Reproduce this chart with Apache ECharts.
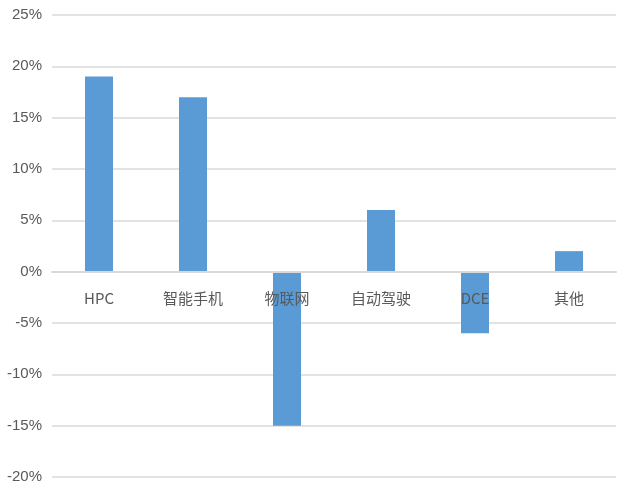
<!DOCTYPE html>
<html><head><meta charset="utf-8">
<script src="https://cdn.jsdelivr.net/npm/echarts@6/dist/echarts.min.js"></script>
<style>html,body{margin:0;padding:0;background:#fff}#c{width:621px;height:488px}</style>
</head><body><div id="c"></div>
<script>
var categories = ['HPC', '智能手机', '物联网', '自动驾驶', 'DCE', '其他'];
var values = [19, 17, -15, 6, -6, 2];
var yMin = -20, yMax = 25, yStep = 5;

var gridTop = 15, gridBottom = 11, H = 488;
var plotH = H - gridTop - gridBottom;
var zeroOffset = -plotH * (0 - yMin) / (yMax - yMin);

var chart = echarts.init(document.getElementById('c'));
chart.setOption({
  animation: false,
  grid: { left: 52, right: 5, top: gridTop, bottom: gridBottom, containLabel: false, outerBoundsMode: 'none' },
  xAxis: {
    type: 'category', data: categories, position: 'bottom', offset: zeroOffset, z: 10,
    axisLine: { onZero: false, lineStyle: { color: '#d9d9d9', width: 2 } },
    axisTick: { show: false },
    axisLabel: { margin: 19, color: '#595959', fontSize: 15, fontFamily: '"Liberation Sans Narrow","Noto Sans CJK SC",sans-serif' }
  },
  yAxis: {
    type: 'value', min: yMin, max: yMax, interval: yStep,
    axisLine: { show: false }, axisTick: { show: false },
    splitLine: { lineStyle: { color: '#e3e3e3', width: 2 } },
    axisLabel: { margin: 10, color: '#595959', fontSize: 15, fontFamily: '"Liberation Sans Narrow",sans-serif', formatter: function (v) { return v + '%'; } }
  },
  series: [{
    type: 'bar', data: values, barWidth: 28, z: 2,
    itemStyle: { color: '#5b9bd5' }
  }]
});
</script></body></html>
